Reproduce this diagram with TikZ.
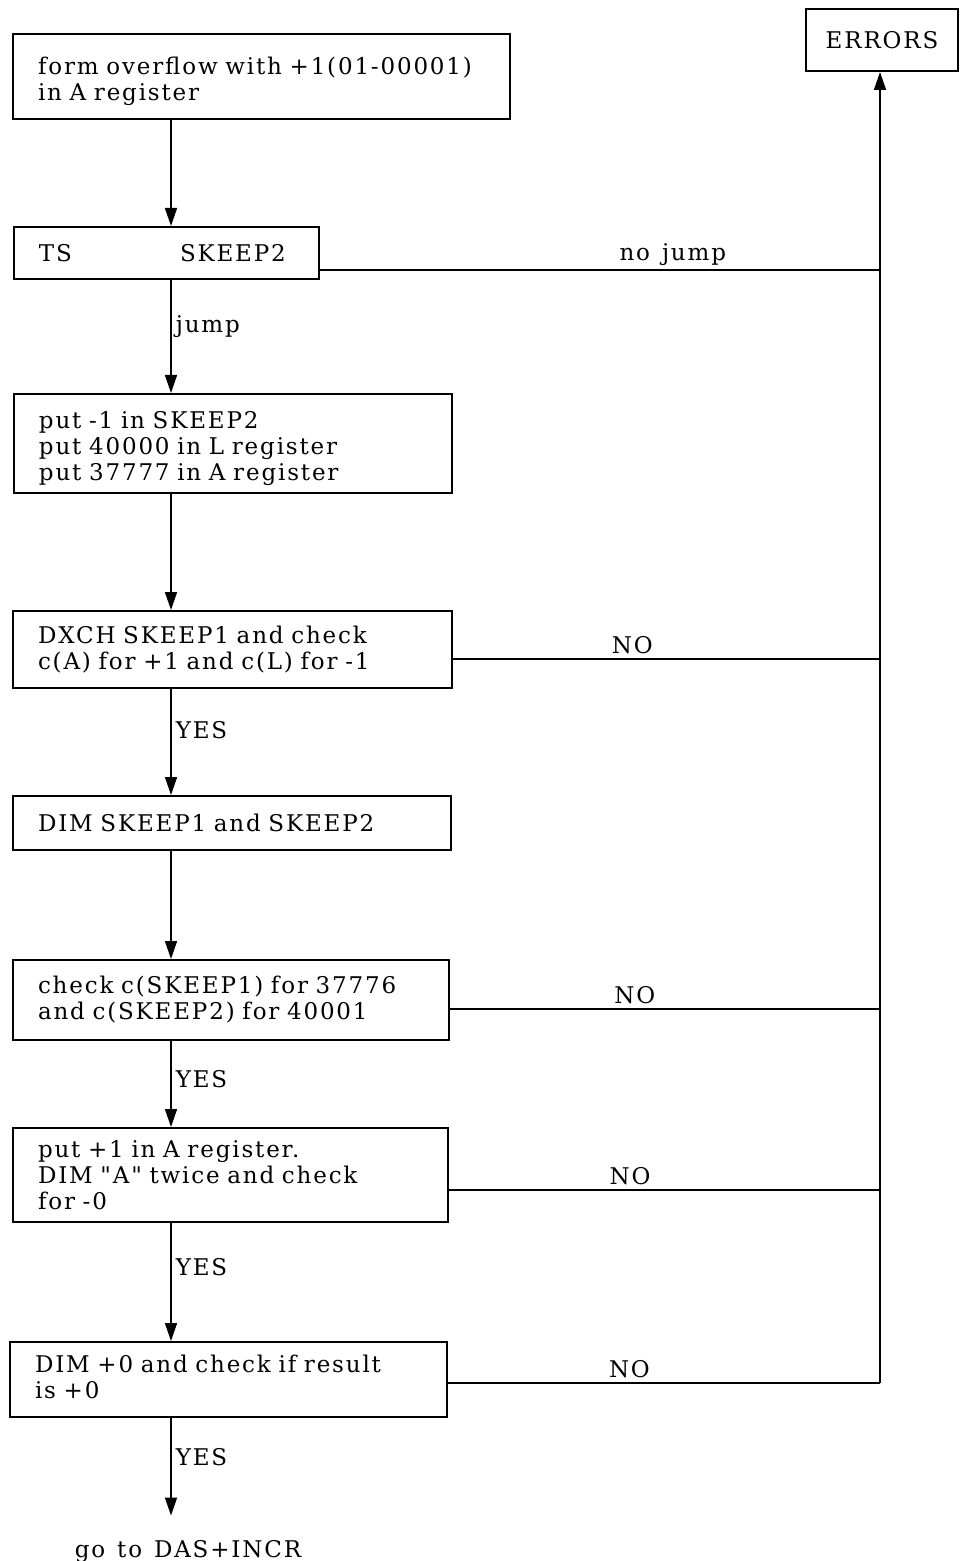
\documentclass[tikz,border=0pt]{standalone}
\usepackage{fontspec}
\setmainfont{DejaVu Serif}[Ligatures=TeXOff, LetterSpace=8, WordSpace=1.3]
\usetikzlibrary{arrows.meta}

\tikzset{
  box/.style={draw, line width=1pt, anchor=north west, align=left,
    inner xsep=12.5pt, inner ysep=2pt, font=\fontsize{11.5}{13}\selectfont},
  flow/.style={line width=0.8pt, -{Triangle[length=9pt,width=6pt]}},
  link/.style={line width=0.8pt},
  lbl/.style={font=\fontsize{11.5}{13}\selectfont, inner sep=2pt},
}

\begin{document}
\begin{tikzpicture}[x=0.5pt, y=-0.5pt]
    \useasboundingbox (0,0) rectangle (973,1561);
    \coordinate (spine) at (171,0);
    % Blocchi del programma
    \node[box, text width=223.5pt, text height=13.7pt, minimum height=42.5pt] (b1) at (12,33)
        {form overflow with +1(01-00001)\\in A register};
    \node[box, align=center, inner xsep=2pt, minimum width=76pt, minimum height=31pt] (err) at (805,8) {ERRORS};
    \node[box, text width=127.5pt, minimum height=26pt] (b2) at (13,226)
        {\makebox[70.5pt][l]{TS}SKEEP2};
    \node[box, text width=194pt, text height=13.4pt, minimum height=49.5pt] (b3) at (13,393)
        {put -1 in SKEEP2\\put 40000 in L register\\put 37777 in A register};
    \node[box, text width=194.5pt, minimum height=38.5pt] (b4) at (12,610)
        {DXCH SKEEP1 and check\\c(A) for +1 and c(L) for -1};
    \node[box, text width=194pt, minimum height=27pt] (b5) at (12,795)
        {DIM SKEEP1 and SKEEP2};
    \node[box, text width=193pt, minimum height=40pt] (b6) at (12,959)
        {check c(SKEEP1) for 37776\\and c(SKEEP2) for 40001};
    \node[box, text width=192.5pt, minimum height=47pt] (b7) at (12,1127)
        {put +1 in A register.\\DIM "A" twice and check\\for -0};
    \node[box, text width=193.5pt, text height=6pt, minimum height=37.5pt] (b8) at (9,1341)
        {DIM +0 and check if result\\is +0};
    \node[lbl, anchor=base] (goal) at (188,1557) {go to DAS+INCR};
    % Frecce verso il basso
    \draw[flow] (b1.south -| spine) -- (b2.north -| spine);
    \draw[flow] (b2.south -| spine) -- node[lbl, right, pos=.41] {jump} (b3.north -| spine);
    \draw[flow] (b3.south -| spine) -- (b4.north -| spine);
    \draw[flow] (b4.south -| spine) -- node[lbl, right, pos=.39] {YES} (b5.north -| spine);
    \draw[flow] (b5.south -| spine) -- (b6.north -| spine);
    \draw[flow] (b6.south -| spine) -- node[lbl, right, pos=.44] {YES} (b7.north -| spine);
    \draw[flow] (b7.south -| spine) -- node[lbl, right, pos=.37] {YES} (b8.north -| spine);
    \draw[flow] (b8.south -| spine) -- node[lbl, right, pos=.4] {YES} ([yshift=10pt]goal.north -| spine);
    % Rami verso ERRORS
    \coordinate (j2) at (880,270);
    \coordinate (j4) at (880,659);
    \coordinate (j6) at (880,1009);
    \coordinate (j7) at (880,1190);
    \coordinate (j8) at (880,1383);
    \draw[link] (b2.east |- j2) -- node[lbl, above, pos=.63] {no jump} (j2);
    \draw[link] (b4.east |- j4) -- node[lbl, above, pos=.42] {NO} (j4);
    \draw[link] (b6.east |- j6) -- node[lbl, above, pos=.43] {NO} (j6);
    \draw[link] (b7.east |- j7) -- node[lbl, above, pos=.42] {NO} (j7);
    \draw[link] (b8.east |- j8) -- node[lbl, above, pos=.42] {NO} (j8);
    \draw[flow] (j8) -- (err.south -| j8);
\end{tikzpicture}
\end{document}
